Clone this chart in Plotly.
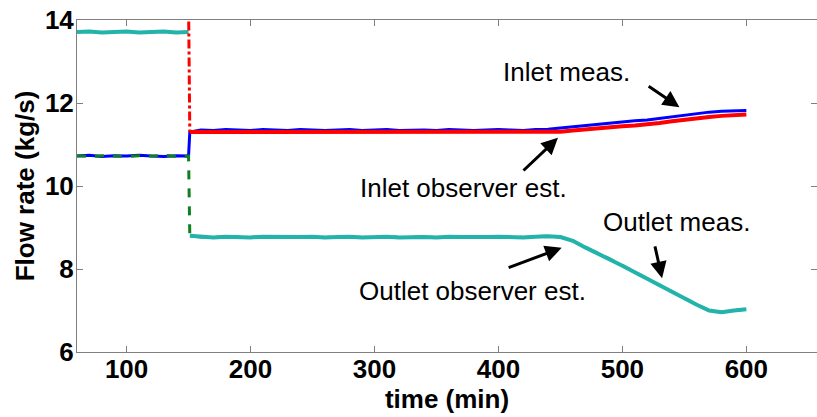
import plotly.graph_objects as go

# ---------------- data ----------------
time_pre = [60, 70, 80, 90, 100, 110, 120, 130, 140, 150]
time_post = [151, 160, 170, 180, 190, 200, 210, 220, 230, 240, 250, 260, 270, 280, 290,
             300, 310, 320, 330, 340, 350, 360, 370, 380, 390, 400, 410, 420, 430, 440,
             450, 460, 470, 480, 490, 500, 510, 520, 530, 540, 550, 560, 570, 580, 590, 600]

inlet_meas_pre = [10.72, 10.74, 10.71, 10.73, 10.72, 10.74, 10.72, 10.71, 10.73, 10.72]
inlet_meas_post = [11.30, 11.35, 11.34, 11.36, 11.35, 11.34, 11.36, 11.35, 11.34, 11.36, 11.35,
                   11.34, 11.35, 11.36, 11.34, 11.35, 11.36, 11.34, 11.35, 11.35, 11.34, 11.36,
                   11.35, 11.34, 11.35, 11.36, 11.35, 11.34, 11.36, 11.37,
                   11.40, 11.43, 11.46, 11.49, 11.52, 11.54, 11.57, 11.59, 11.63, 11.66,
                   11.70, 11.74, 11.78, 11.80, 11.81, 11.82]

inlet_obs_jump_time = [150, 151]
inlet_obs_jump = [14.4, 11.30]
inlet_obs_post = [11.30, 11.30, 11.29, 11.31, 11.30, 11.29, 11.31, 11.30, 11.29, 11.30, 11.31,
                  11.29, 11.30, 11.31, 11.29, 11.30, 11.31, 11.29, 11.30, 11.30, 11.29, 11.31,
                  11.30, 11.29, 11.30, 11.31, 11.30, 11.29, 11.30, 11.30,
                  11.31, 11.34, 11.37, 11.40, 11.42, 11.44, 11.46, 11.48, 11.52, 11.56,
                  11.60, 11.63, 11.66, 11.69, 11.70, 11.72]

outlet_meas_pre = [13.71, 13.72, 13.70, 13.71, 13.72, 13.70, 13.71, 13.72, 13.70, 13.71]
outlet_meas_post = [8.80, 8.77, 8.76, 8.78, 8.77, 8.76, 8.78, 8.77, 8.76, 8.77, 8.78,
                    8.76, 8.77, 8.78, 8.76, 8.77, 8.78, 8.76, 8.77, 8.77, 8.76, 8.78,
                    8.77, 8.76, 8.77, 8.78, 8.77, 8.76, 8.78, 8.79,
                    8.77, 8.68, 8.52, 8.38, 8.24, 8.08, 7.92, 7.76, 7.62, 7.45,
                    7.30, 7.14, 7.00, 6.96, 7.00, 7.03]

outlet_obs_pre = [10.73, 10.71, 10.73, 10.72, 10.71, 10.73, 10.72, 10.74, 10.71, 10.72]
outlet_obs_post = [8.80, 8.77, 8.76, 8.78, 8.77, 8.76, 8.78, 8.77, 8.76, 8.77, 8.78,
                   8.76, 8.77, 8.78, 8.76, 8.77, 8.78, 8.76, 8.77, 8.77, 8.76, 8.78,
                   8.77, 8.76, 8.77, 8.78, 8.77, 8.76, 8.78, 8.79,
                   8.77, 8.68, 8.52, 8.38, 8.24, 8.08, 7.92, 7.76, 7.62, 7.45,
                   7.30, 7.14, 7.00, 6.96, 7.00, 7.03]

x_ticks = [100, 200, 300, 400, 500, 600]
y_ticks = [6, 8, 10, 12, 14]

# labels: (text, text_x, text_y, arrow_head_x, arrow_head_y, arrow_tail_x, arrow_tail_y)
labels = [
    ("Inlet meas.", 455, 12.75, 546, 11.90, 520, 12.43),
    ("Inlet observer est.", 372, 9.95, 448, 11.16, 419, 10.34),
    ("Outlet observer est.", 379, 7.47, 451, 8.51, 407, 8.02),
    ("Outlet meas.", 544, 9.13, 532, 7.78, 526, 8.58),
]

# ---------------- figure ----------------
BLUE = "#0000FF"
RED = "#FF0000"
GREEN = "#0F7F1F"
TEAL = "#22B4AA"

fig = go.Figure()

fig.add_trace(go.Scatter(x=time_pre + time_post, y=inlet_meas_pre + inlet_meas_post,
                         mode="lines", line=dict(color=BLUE, width=3), name="Inlet meas."))
fig.add_trace(go.Scatter(x=time_pre + time_post, y=outlet_obs_pre + outlet_obs_post,
                         mode="lines", line=dict(color=GREEN, width=3, dash="dash"),
                         name="Outlet observer est."))
fig.add_trace(go.Scatter(x=time_pre + [150.5] + time_post,
                         y=outlet_meas_pre + [None] + outlet_meas_post,
                         mode="lines", line=dict(color=TEAL, width=4), connectgaps=False,
                         name="Outlet meas."))
fig.add_trace(go.Scatter(x=inlet_obs_jump_time, y=inlet_obs_jump,
                         mode="lines", line=dict(color=RED, width=3, dash="dashdot"),
                         name="Inlet observer est.", showlegend=False))
fig.add_trace(go.Scatter(x=time_post, y=inlet_obs_post,
                         mode="lines", line=dict(color=RED, width=4),
                         name="Inlet observer est."))

FONT = "Liberation Sans, Arial, sans-serif"

for text, tx, ty, hx, hy, ax, ay in labels:
    fig.add_annotation(x=tx, y=ty, text=text, showarrow=False, xref="x", yref="y",
                       xanchor="center", yanchor="middle",
                       font=dict(family=FONT, size=26, color="black"))
    fig.add_annotation(x=hx, y=hy, ax=ax, ay=ay, xref="x", yref="y", axref="x", ayref="y",
                       text="", showarrow=True, arrowhead=2, arrowsize=1.1,
                       arrowwidth=3, arrowcolor="black", standoff=0, startstandoff=0)

axis_common = dict(showline=True, linecolor="#7f7f7f", linewidth=1, mirror="ticks",
                   ticks="inside", ticklen=6, tickcolor="#7f7f7f", tickwidth=1,
                   showgrid=False, zeroline=False,
                   tickfont=dict(family=FONT, size=26, color="black", weight="bold"))

fig.update_xaxes(range=[60, 657], tickvals=x_ticks, ticklabelstandoff=-6,
                 title=dict(text="time (min)", standoff=0,
                            font=dict(family=FONT, size=26, color="black", weight="bold")),
                 **axis_common)
fig.update_yaxes(range=[6, 14], tickvals=y_ticks, ticklabelstandoff=-3,
                 title=dict(text="Flow rate (kg/s)", standoff=2,
                            font=dict(family=FONT, size=26, color="black", weight="bold")),
                 **axis_common)

fig.update_layout(width=817, height=417, margin=dict(l=77, r=0, t=20, b=65),
                  plot_bgcolor="white", paper_bgcolor="white", showlegend=False)

fig.write_html("out.html")
